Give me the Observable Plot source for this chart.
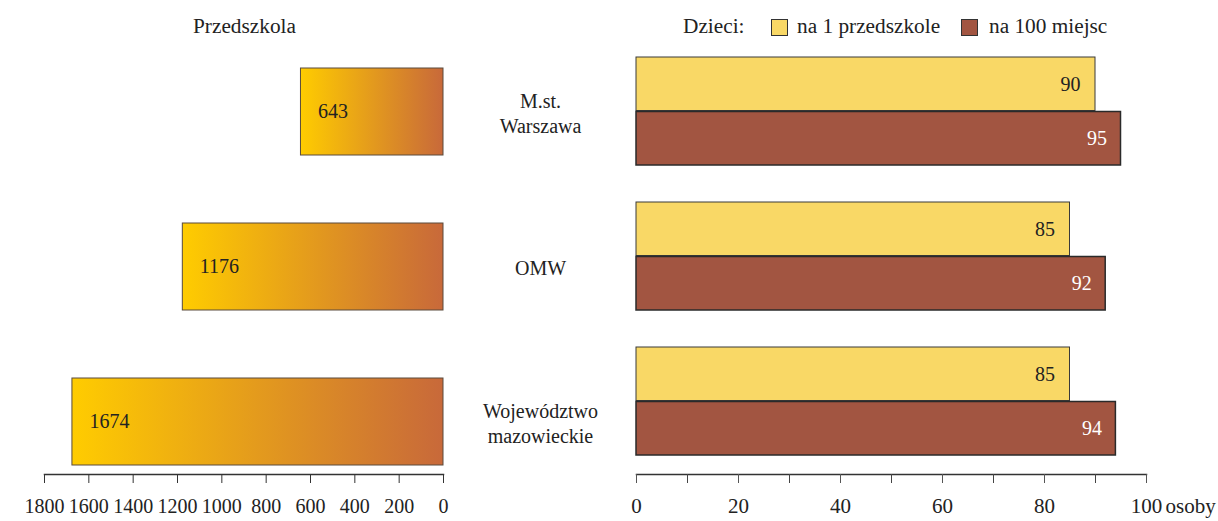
<!DOCTYPE html>
<html>
<head>
<meta charset="utf-8">
<script src="https://cdn.jsdelivr.net/npm/d3@7"></script>
<script src="https://cdn.jsdelivr.net/npm/@observablehq/plot@0.6"></script>
<style>
  html, body { margin: 0; padding: 0; background: #fff; }
  body { width: 1218px; height: 521px; overflow: hidden; font-family: "Liberation Serif", "DejaVu Serif", serif; color: #222; }
  #header { position: relative; width: 1218px; height: 46px; font-size: 21.3px; }
  #header span { position: absolute; top: 14px; line-height: 24px; white-space: nowrap; }
  #header .sw { position: absolute; top: 19px; width: 17px; height: 17px; box-sizing: border-box; border: 1px solid #333; }
  #charts { position: relative; width: 1218px; height: 475px; }
  #left { position: absolute; left: 0; top: 0; }
  #right { position: absolute; left: 600px; top: 0; }
</style>
</head>
<body>
<div id="header">
  <span style="left:193px">Przedszkola</span>
  <span style="left:683px">Dzieci:</span>
  <div class="sw" id="sw1" style="left:771px"></div>
  <span style="left:797px">na 1 przedszkole</span>
  <div class="sw" id="sw2" style="left:961px"></div>
  <span style="left:989px">na 100 miejsc</span>
</div>
<div id="charts">
  <div id="left"></div>
  <div id="right"></div>
</div>
<script>
// ---- data ----
const categories = ["M.st. Warszawa", "OMW", "Województwo mazowieckie"];
const categoryLabels = ["M.st.\nWarszawa", "OMW", "Województwo\nmazowieckie"];
const przedszkola = [643, 1176, 1674];
const dzieciNa1Przedszkole = [90, 85, 85];
const dzieciNa100Miejsc = [95, 92, 94];
const leftTicks = [0, 200, 400, 600, 800, 1000, 1200, 1400, 1600, 1800];
const rightTicks = [0, 20, 40, 60, 80, 100];
const rightMinorTicks = [10, 30, 50, 70, 90];
const unitLabel = "osoby";

const yellow = "#f9d866";
const brown = "#a25541";
document.getElementById("sw1").style.background = yellow;
document.getElementById("sw2").style.background = brown;

const leftData = categories.map((c, i) => ({cat: c, label: categoryLabels[i], v: przedszkola[i]}));
const rightData = categories.map((c, i) => ({cat: c, a: dzieciNa1Przedszkole[i], b: dzieciNa100Miejsc[i]}));

const font = {fontFamily: "Liberation Serif, DejaVu Serif, serif", fontSize: "20px", background: "transparent", color: "#222"};
const plain = d => String(d);

// ---- left chart ----
const left = Plot.plot({
  width: 600, height: 475,
  marginLeft: 44, marginRight: 157, marginTop: 10, marginBottom: 47,
  style: font,
  x: {domain: [0, 1800], reverse: true, axis: null},
  y: {domain: categories, paddingInner: 0.44, paddingOuter: 0.064, align: 0.55, axis: null},
  marks: [
    Plot.barX(leftData, {x1: 0, x2: "v", y: "cat", fill: "url(#gradPrzedszkola)", stroke: "#5a4b3c", strokeWidth: 1}),
    Plot.text(leftData, {x: "v", y: "cat", text: d => String(d.v), textAnchor: "start", dx: 17, fill: "#222", fontSize: 20}),
    Plot.text(leftData, {y: "cat", text: "label", frameAnchor: "right", dx: 97, textAnchor: "middle", lineHeight: 1.25, fill: "#222", fontSize: 20}),
    Plot.frame({anchor: "bottom", stroke: "#333", strokeWidth: 1.5}),
    Plot.axisX({ticks: leftTicks, tickFormat: plain, tickSize: 9, tickPadding: 15, label: null, stroke: "#333", fontSize: 20, fill: "#222"})
  ]
});
d3.select(left).insert("defs", ":first-child").html(
  '<linearGradient id="gradPrzedszkola" x1="0" x2="1" y1="0" y2="0">' +
  '<stop offset="0" stop-color="#ffcc00"/><stop offset="1" stop-color="#c8693a"/></linearGradient>'
);
document.getElementById("left").appendChild(left);

// ---- right chart ----
const right = Plot.plot({
  width: 618, height: 475,
  marginLeft: 36, marginRight: 72, marginTop: 5, marginBottom: 47,
  style: font,
  x: {domain: [0, 100], axis: null},
  y: {domain: categories, paddingInner: 0.252, paddingOuter: 0.083, align: 0.25, axis: null},
  marks: [
    Plot.barX(rightData, {x1: 0, x2: "a", y: "cat", insetBottom: 54.5, fill: yellow, stroke: "#3a3a3a", strokeWidth: 1}),
    Plot.barX(rightData, {x1: 0, x2: "b", y: "cat", insetTop: 54.5, fill: brown, stroke: "#2a2a2a", strokeWidth: 1.5}),
    Plot.text(rightData, {x: "a", y: "cat", text: d => String(d.a), textAnchor: "end", dx: -15, dy: -27, fill: "#222", fontSize: 20}),
    Plot.text(rightData, {x: "b", y: "cat", text: d => String(d.b), textAnchor: "end", dx: -14, dy: 27, fill: "#fff", fontSize: 20}),
    Plot.frame({anchor: "bottom", stroke: "#333", strokeWidth: 1.5}),
    Plot.axisX({ticks: rightMinorTicks, tickSize: 9, tickFormat: () => "", label: null, stroke: "#444"}),
    Plot.axisX({ticks: rightTicks, tickFormat: plain, tickSize: 9, tickPadding: 15, label: null, stroke: "#555", fontSize: 21, fill: "#222"}),
    Plot.text([unitLabel], {frameAnchor: "bottom-right", text: d => d, textAnchor: "start", dx: 19, dy: 38, fill: "#222", fontSize: 21})
  ]
});
document.getElementById("right").appendChild(right);
</script>
</body>
</html>
